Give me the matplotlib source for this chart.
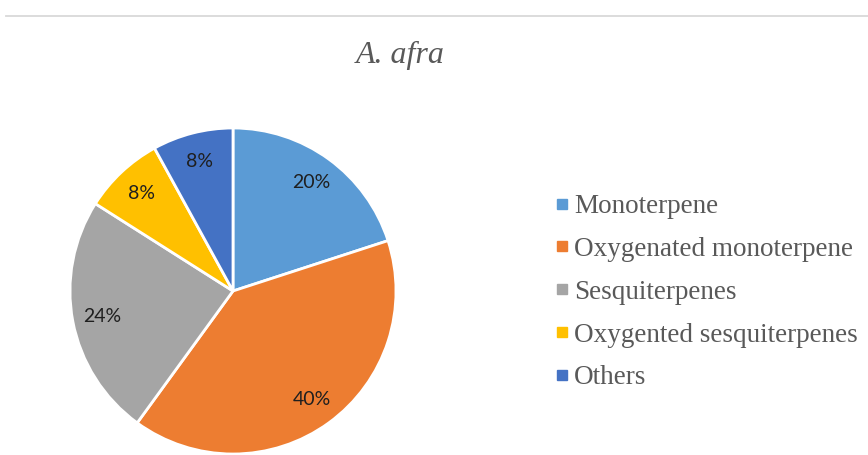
import matplotlib
matplotlib.use("Agg")
import matplotlib.pyplot as plt
from matplotlib.lines import Line2D

categories = ["Monoterpene", "Oxygenated monoterpene", "Sesquiterpenes",
              "Oxygented sesquiterpenes", "Others"]
values = [20, 40, 24, 8, 8]
colors = ["#5B9BD5", "#ED7D31", "#A5A5A5", "#FFC000", "#4472C4"]

W, H = 868, 455
fig = plt.figure(figsize=(W / 100, H / 100), dpi=100)

# thin rule along the top
fig.add_artist(Line2D([6 / W, 1], [1 - 16 / H, 1 - 16 / H], color="#d9d9d9", lw=1.3))

fig.text(400 / W, 1 - 55 / H, "A. afra", ha="center", va="center",
         family="Liberation Serif", style="italic", fontsize=23, color="#595959")

# pie axes: centre (233, 290) px, radius 163 px
r = 163
ax = fig.add_axes([(233 - r) / W, (H - 291 - r) / H, 2 * r / W, 2 * r / H])
wedges, texts, autotexts = ax.pie(
    values, colors=colors, startangle=90, counterclock=False,
    autopct=lambda p: "%d%%" % round(p), pctdistance=0.82,
    wedgeprops=dict(edgecolor="white", linewidth=2),
    textprops=dict(family="Lato", fontsize=14, color="#1f1f1f"))
ax.set_xlim(-1, 1)
ax.set_ylim(-1, 1)
ax.set_aspect("equal")
ax.axis("off")

handles = [Line2D([], [], marker="s", ls="none", markersize=6.5,
                  markerfacecolor=c, markeredgecolor=c) for c in colors]
fig.legend(handles, categories, loc="upper left",
           bbox_to_anchor=(555 / W, 1 - 194 / H), frameon=False,
           prop=dict(family="Liberation Serif", size=19.5),
           labelcolor="#595959", handlelength=0.5, handletextpad=0.2,
           labelspacing=0.66, borderpad=0, borderaxespad=0)

fig.savefig("out.png", dpi=100, facecolor="white")
